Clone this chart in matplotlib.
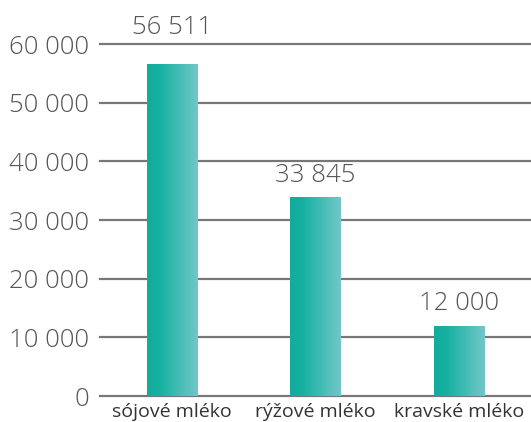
import numpy as np
import matplotlib
matplotlib.use("Agg")
from matplotlib import pyplot as plt
from matplotlib.colors import LinearSegmentedColormap

categories = ["sójové mléko", "rýžové mléko", "kravské mléko"]
values = [56511, 33845, 12000]
yticks = [0, 10000, 20000, 30000, 40000, 50000, 60000]


def fmt(v):
    return "{:,}".format(v).replace(",", " ")


fig = plt.figure(figsize=(5.31, 4.22), dpi=100)
ax = fig.add_axes([100 / 531, 26 / 422, 431 / 531, 352 / 422])

x = np.arange(len(categories))
bars = ax.bar(x, values, width=50 / 143.5, color="none", zorder=3)

cmap = LinearSegmentedColormap.from_list(
    "teal", [(0, "#13ab9b"), (0.25, "#16b1a2"), (1, "#72c7c8")])
grad = np.linspace(0, 1, 256).reshape(1, -1)
for b in bars:
    im = ax.imshow(grad, cmap=cmap, aspect="auto", zorder=3,
                   extent=[b.get_x(), b.get_x() + b.get_width(), 0, b.get_height()])
    im.set_clip_path(b)

ax.set_xlim(-0.5, len(categories) - 0.5)
ax.set_ylim(0, 60000)
ax.set_yticks(yticks)
ax.set_yticklabels([fmt(v) for v in yticks])
ax.set_xticks(x)
ax.set_xticklabels(categories)
for s in ax.spines.values():
    s.set_visible(False)
ax.tick_params(axis="y", length=0, pad=8, labelsize=18.5, labelcolor="#555555")
ax.tick_params(axis="x", length=0, pad=5, labelsize=14, labelcolor="#333333")
for lab in ax.get_yticklabels():
    lab.set_fontfamily("Open Sans")
    lab.set_fontweight("light")
for lab in ax.get_xticklabels():
    lab.set_fontfamily("Open Sans")
ax.grid(axis="y", color="#777777", linewidth=1.6, zorder=1)
for gl in ax.get_ygridlines():
    gl.set_clip_on(False)
ax.set_axisbelow(True)

for xi, v in zip(x, values):
    # keep the label clear of the top gridline
    y = v if v < 52000 else 60000
    off = 7 if v < 52000 else 3
    ax.annotate(fmt(v), (xi, y), xytext=(0, off), textcoords="offset points",
                ha="center", va="bottom", fontsize=18.5, color="#555555",
                family="Open Sans", fontweight="light", annotation_clip=False)

fig.savefig("out.png", dpi=100)
